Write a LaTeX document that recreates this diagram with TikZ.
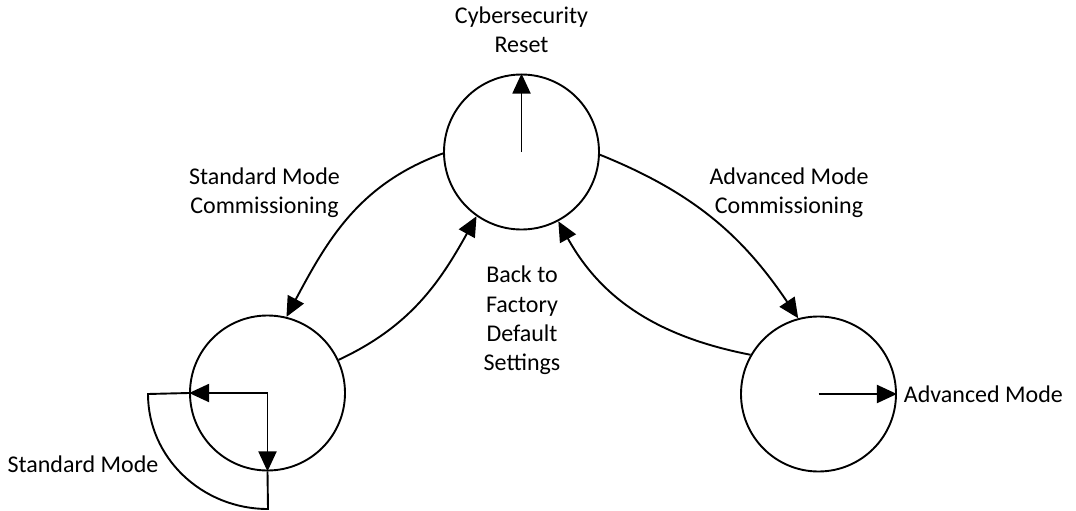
\documentclass[tikz,border=0pt]{standalone}
\usepackage{fontspec}
\setmainfont{Carlito}
\usepackage{tikz}
\usetikzlibrary{arrows.meta, positioning}

\begin{document}
\begin{tikzpicture}[x=1pt,y=1pt,>={Triangle[length=20pt,width=18pt]},line width=1.9pt,
    state/.style={circle,draw,minimum size=155pt,inner sep=0pt},
    lbl/.style={align=center,inner sep=0pt,font=\fontsize{24}{29.3}\selectfont}]
  \useasboundingbox (0,0) rectangle (1076,-511);

  \node[state] (cyber) at (521.5,-152) {};
  \node[state] (sm)    at (267.5,-393) {};
  \node[state] (adv)   at (818.5,-394) {};

  \node[lbl] (cyblbl)  [above=20pt of cyber] {Cybersecurity\\Reset};
  \node[lbl] (smclbl)  at (264.5,-192.5)     {Standard Mode\\Commissioning};
  \node[lbl] (advclbl) at (789,-192.5)       {Advanced Mode\\Commissioning};
  \node[lbl] (backlbl) at (522,-320.5)       {Back to\\Factory\\Default\\Settings};
  \node[lbl] (smlbl)   at (83,-464.5)        {Standard Mode};
  \node[lbl] (advlbl)  [right=6pt of adv]    {Advanced Mode};

  \path[->]
        (cyber.181) edge [out=200,in=62]  (sm.76)
        (sm.25)     edge [out=25,in=241]  (cyber.235)
        (cyber.358) edge [out=338,in=124] (adv.105)
        (adv.150)   edge [out=169,in=299] (cyber.298);

  % inner arrows
  \draw[->] (cyber.center) -- (cyber.north);
  \draw[->] (adv.center) -- (adv.east);
  \draw[->] (sm.center) -- (sm.west);
  \draw[->] (sm.center) -- (sm.south);

  % standard mode loop
  \coordinate (smloop) at (268,-509);
  \draw (sm.south) -- (smloop)
        arc[start angle=270,end angle=180,x radius=120pt,y radius=115pt] -- (sm.west);
\end{tikzpicture}
\end{document}
